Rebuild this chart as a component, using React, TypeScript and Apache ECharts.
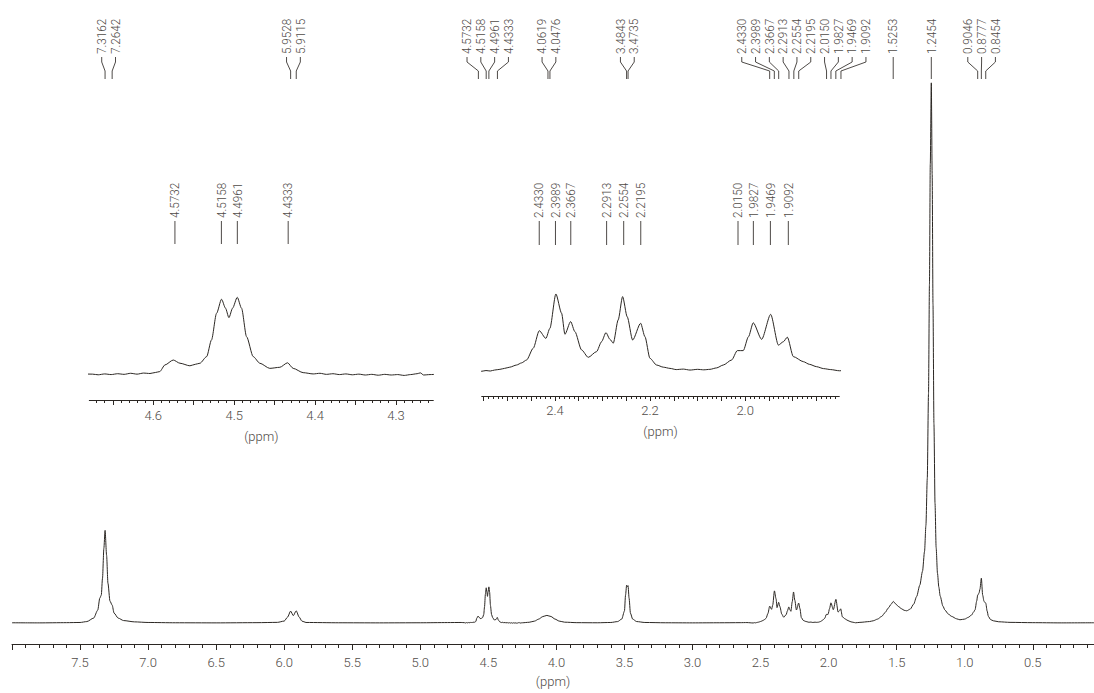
import React, { useEffect, useRef } from "react";
import * as echarts from "echarts";

// ---------- data (ppm, intensity in main-plot units) ----------
const spectrumPpm: number[] = [
  8.0, 7.8, 7.6, 7.5, 7.45, 7.4, 7.37, 7.355, 7.344, 7.335, 7.325, 7.316, 7.305, 7.295, 7.28, 7.264, 7.25, 7.22, 7.18, 7.1, 7.0,
  6.8, 6.5, 6.2, 6.05, 6.0, 5.975, 5.953, 5.933, 5.912, 5.89, 5.87, 5.84, 5.6, 5.3, 5.0, 4.8, 4.7,
  4.675, 4.668, 4.66, 4.652, 4.644, 4.636, 4.628, 4.62, 4.612, 4.604, 4.597, 4.592, 4.5855, 4.5753, 4.567, 4.5547, 4.548, 4.5423,
  4.534, 4.528, 4.5218, 4.5156, 4.5107, 4.5065, 4.502, 4.4962, 4.4909, 4.4847, 4.4765, 4.4683, 4.456, 4.4436, 4.4341, 4.4271,
  4.4148, 4.4024, 4.394, 4.386, 4.378, 4.37, 4.362, 4.354, 4.346, 4.338, 4.33, 4.322, 4.314, 4.306, 4.298, 4.29, 4.282, 4.274,
  4.27, 4.266, 4.258, 4.25, 4.2, 4.16, 4.13, 4.1, 4.07, 4.04, 4.01, 3.98, 3.94, 3.85, 3.7,
  3.6, 3.55, 3.52, 3.5, 3.492, 3.484, 3.479, 3.4735, 3.466, 3.456, 3.44, 3.41, 3.35, 3.2, 3.0, 2.8, 2.65, 2.6,
  2.554, 2.545, 2.536, 2.527, 2.5157, 2.506, 2.495, 2.4807, 2.47, 2.4596, 2.4456, 2.433, 2.419, 2.4106, 2.398, 2.386, 2.379,
  2.367, 2.358, 2.344, 2.33, 2.3124, 2.302, 2.2927, 2.2843, 2.2773, 2.267, 2.2577, 2.248, 2.2366, 2.2198, 2.2107, 2.2002,
  2.1862, 2.172, 2.1581, 2.145, 2.13, 2.116, 2.1, 2.087, 2.074, 2.06, 2.046, 2.0284, 2.0165, 2.004, 1.993, 1.983, 1.9653,
  1.9463, 1.93, 1.9197, 1.9113, 1.8986, 1.8776, 1.865, 1.8496, 1.835, 1.82, 1.802,
  1.77, 1.7, 1.672, 1.64, 1.61, 1.585, 1.562, 1.54, 1.525, 1.505, 1.488, 1.463, 1.445, 1.426, 1.4, 1.375, 1.353, 1.33, 1.31,
  1.295, 1.285, 1.275, 1.266, 1.259, 1.253, 1.2454, 1.239, 1.233, 1.226, 1.218, 1.21, 1.2, 1.19, 1.18, 1.16, 1.145, 1.12,
  1.096, 1.06, 1.035, 1.0, 0.974, 0.95, 0.935, 0.924, 0.912, 0.9046, 0.895, 0.888, 0.8777, 0.868, 0.858, 0.8454, 0.835,
  0.826, 0.81, 0.79, 0.75, 0.667, 0.5, 0.3, 0.05,
];
const spectrumInt: number[] = [
  0.3, 0.2, 0.4, 0.6, 1.5, 5, 13, 25, 28, 45, 75, 93, 68, 40, 22, 18, 10, 5, 2.5, 1.2, 0.6,
  0.3, 0.2, 0.4, 0.7, 2, 6, 12, 7.5, 12.3, 6, 2, 0.6, 0.3, 0.2, 0.3, 0.5, 0.6,
  0.4, 0.1, 0.5, 0.2, 0.6, 0.3, 0.8, 0.4, 0.9, 0.7, 1.2, 1.6, 4.7, 7.0, 5.5, 4.3, 5.0, 5.5,
  8.6, 16.4, 28.8, 35.4, 31.2, 26.8, 31.2, 36.3, 31.2, 17.9, 8.6, 5.5, 3.1, 3.6, 5.7, 3.1,
  1.1, 0.5, 0.8, 0.3, 0.6, 0.2, 0.5, 0.1, 0.4, 0.0, 0.3, -0.1, 0.3, 0.0, 0.2, -0.2, 0.2, 0.6,
  1.0, 0.0, 0.2, 0.3, 0.8, 2, 4, 6.5, 7.7, 6.6, 4, 2, 0.9, 0.4, 0.3,
  0.6, 1.5, 4, 12, 28, 38, 36.5, 37.5, 25, 10, 4, 1.5, 0.6, 0.3, 0.2, 0.3, 0.4, 0.5,
  0.1, 0.4, 0.2, 0.6, 0.9, 1.3, 1.8, 2.7, 3.6, 4.8, 9.7, 17.0, 13.8, 18.0, 32.3, 24.3, 15.5,
  20.8, 16.6, 9.0, 5.9, 8.3, 12.4, 16.2, 13.4, 11.8, 21.5, 31.2, 22.8, 13.1, 20.1, 14.5, 5.5,
  2.7, 1.8, 1.3, 0.8, 1.0, 0.6, 0.9, 0.7, 0.9, 1.5, 2.7, 4.8, 8.7, 8.7, 14.5, 20.3, 13.4,
  23.8, 11.0, 12.4, 14.3, 6.2, 4.1, 3.0, 2.0, 1.2, 0.8, 0.3,
  0.7, 1.5, 2.3, 4, 6.7, 10.5, 15, 19, 21.7, 19, 16.7, 14.3, 12.8, 12.3, 14, 19, 26.7, 38, 52,
  72, 98, 145, 230, 340, 460, 542, 450, 320, 200, 120, 76, 50, 36, 27, 17, 13, 9,
  6.7, 4.3, 3.3, 4, 5.7, 8, 11, 13.3, 22, 28, 30, 34, 45, 28, 21.7, 20, 12,
  6.7, 3.5, 2.3, 1.3, 0.7, 0.4, 0.2, 0.3,
];

// peak-pick labels
const mainPeakLabels: string[] = [
  "7.3162", "7.2642", "5.9528", "5.9115", "4.5732", "4.5158", "4.4961", "4.4333", "4.0619", "4.0476",
  "3.4843", "3.4735", "2.4330", "2.3989", "2.3667", "2.2913", "2.2554", "2.2195", "2.0150", "1.9827",
  "1.9469", "1.9092", "1.5253", "1.2454", "0.9046", "0.8777", "0.8454",
];
const inset1PeakLabels: string[] = ["4.5732", "4.5158", "4.4961", "4.4333"];
const inset2PeakLabels: string[] = [
  "2.4330", "2.3989", "2.3667", "2.2913", "2.2554", "2.2195", "2.0150", "1.9827", "1.9469", "1.9092",
];

// tick labels
const mainTickLabels: number[] = [7.5, 7.0, 6.5, 6.0, 5.5, 5.0, 4.5, 4.0, 3.5, 3.0, 2.5, 2.0, 1.5, 1.0, 0.5];
const inset1TickLabels: number[] = [4.6, 4.5, 4.4, 4.3];
const inset2TickLabels: number[] = [2.4, 2.2, 2.0];

// axis ranges (ppm)
const mainRange: [number, number] = [0.05, 8.0];
const inset1Range: [number, number] = [4.254, 4.679];
const inset2Range: [number, number] = [1.802, 2.554];

// ---------- helpers ----------
const FONT = "Roboto, 'Liberation Sans', sans-serif";
const INK = "#2b2723";
const TEXT = "#4f4b47";

function ticksBetween(lo: number, hi: number, step: number): number[] {
  const out: number[] = [];
  const n0 = Math.ceil(lo / step - 1e-6);
  const n1 = Math.floor(hi / step + 1e-6);
  for (let n = n0; n <= n1; n++) out.push(Math.round(n * step * 1000) / 1000);
  return out;
}

function spread(peaks: number[], gap: number): number[] {
  let cl = peaks.map((p, i) => ({ members: [i], start: p }));
  let merged = true;
  while (merged) {
    merged = false;
    for (let i = 0; i < cl.length - 1; i++) {
      const a = cl[i];
      const b = cl[i + 1];
      const aEnd = a.start + (a.members.length - 1) * gap;
      if (aEnd + gap > b.start) {
        const members = a.members.concat(b.members);
        const mean = members.reduce((s, k) => s + peaks[k], 0) / members.length;
        cl.splice(i, 2, { members, start: mean - ((members.length - 1) * gap) / 2 });
        merged = true;
        break;
      }
    }
  }
  const out: number[] = new Array(peaks.length);
  cl.forEach((c) => c.members.forEach((k, j) => (out[k] = c.start + j * gap)));
  return out;
}

function makeAxes(
  gridIndex: number,
  range: [number, number],
  labels: number[],
  majorTicks: number[],
  minorTicks: number[],
  majorLen: number,
  minorLen: number,
  labelMargin: number,
  nameGap: number
): any[] {
  const base = {
    type: "value",
    gridIndex,
    position: "bottom",
    min: range[0],
    max: range[1],
    inverse: true,
    splitLine: { show: false },
  };
  return [
    {
      ...base,
      axisLine: { show: true, onZero: false, lineStyle: { color: INK, width: 1 } },
      axisTick: { show: true, customValues: majorTicks, length: majorLen, lineStyle: { color: INK, width: 1 } },
      axisLabel: {
        show: true,
        customValues: labels,
        formatter: (v: number) => v.toFixed(1),
        margin: labelMargin,
        color: TEXT,
        fontSize: 13,
        fontWeight: 300,
        fontFamily: FONT,
      },
      name: "(ppm)",
      nameLocation: "middle",
      nameGap,
      nameTextStyle: { color: TEXT, fontSize: 13, fontWeight: 300, fontFamily: FONT },
    },
    {
      ...base,
      axisLine: { show: false, onZero: false },
      axisTick: { show: true, customValues: minorTicks, length: minorLen, lineStyle: { color: INK, width: 1 } },
      axisLabel: { show: false },
    },
  ];
}

export default function App() {
  const ref = useRef<HTMLDivElement>(null);

  useEffect(() => {
    if (!ref.current) return;
    const chart = echarts.init(ref.current, undefined, { renderer: "svg" });
    const data = spectrumPpm.map((p, i) => [p, spectrumInt[i]]);

    const mainMajor = ticksBetween(0.5, 8.0, 0.5);
    const mainMinor = ticksBetween(0.1, 7.9, 0.1).filter((t) => Math.abs(t * 2 - Math.round(t * 2)) > 1e-6);
    const i1Major = ticksBetween(inset1Range[0], inset1Range[1], 0.05);
    const i1Minor = ticksBetween(inset1Range[0], inset1Range[1], 0.01);
    const i2Major = ticksBetween(inset2Range[0], inset2Range[1], 0.05);
    const i2Minor = ticksBetween(inset2Range[0], inset2Range[1], 0.01);

    const xAxis = [
      ...makeAxes(0, mainRange, mainTickLabels, mainMajor, mainMinor, 6, 4, 12, 31),
      ...makeAxes(1, inset1Range, inset1TickLabels, i1Major, i1Minor, 5, 3, 9, 30),
      ...makeAxes(2, inset2Range, inset2TickLabels, i2Major, i2Minor, 5, 3, 8, 29),
    ];

    // inset vertical gains (inset px per main unit)
    const k1 = 2.14;
    const k2 = 2.4;

    const lineSeries = (xi: number, yi: number) => ({
      type: "line",
      xAxisIndex: xi,
      yAxisIndex: yi,
      data,
      symbol: "none",
      clip: true,
      smooth: 0.25,
      smoothMonotone: "x",
      lineStyle: { color: INK, width: 1 },
    });

    const option: any = {
      animation: false,
      backgroundColor: "#ffffff",
      grid: [
        { left: 12, right: 0, top: 40, bottom: 47 },
        { left: 89.3, right: 660.7, top: 250, bottom: 293 },
        { left: 481.7, right: 254.7, top: 250, bottom: 297 },
      ],
      xAxis,
      yAxis: [
        { type: "value", gridIndex: 0, min: -21, max: 585, show: false },
        { type: "value", gridIndex: 1, min: -25 / k1, max: -25 / k1 + 150 / k1, show: false },
        { type: "value", gridIndex: 2, min: -24.5 / k2, max: -24.5 / k2 + 146 / k2, show: false },
      ],
      series: [lineSeries(0, 0), lineSeries(2, 1), lineSeries(4, 2)],
    };
    chart.setOption(option);

    // ---------- peak annotations ----------
    const graphics: any[] = [];
    const lineStyle = { stroke: "#3a3632", lineWidth: 0.9, fill: null };
    const textEl = (t: string, x: number, y: number) => ({
      type: "text",
      silent: true,
      x,
      y,
      rotation: Math.PI / 2,
      scaleX: 0.9,
      style: {
        text: t,
        fill: TEXT,
        fontSize: 13,
        fontWeight: 300,
        fontFamily: FONT,
        align: "left",
        verticalAlign: "middle",
      },
    });

    const mainPx = mainPeakLabels.map((s) => chart.convertToPixel({ xAxisIndex: 0 }, parseFloat(s)) as number);
    const mainLx = spread(mainPx, 13.8);
    mainPeakLabels.forEach((s, i) => {
      const px = mainPx[i];
      const lx = mainLx[i];
      graphics.push({
        type: "polyline",
        silent: true,
        shape: { points: [[lx, 57], [lx, 62], [px, 71], [px, 79]] },
        style: lineStyle,
      });
      graphics.push(textEl(s, lx, 54));
    });

    const insetDefs: [string[], number, number, number][] = [
      [inset1PeakLabels, 2, 221, 244],
      [inset2PeakLabels, 4, 221, 245],
    ];
    insetDefs.forEach(([labels, axisIdx, y0, y1]) => {
      labels.forEach((s) => {
        const px = chart.convertToPixel({ xAxisIndex: axisIdx }, parseFloat(s)) as number;
        graphics.push({ type: "line", silent: true, shape: { x1: px, y1: y0, x2: px, y2: y1 }, style: lineStyle });
        graphics.push(textEl(s, px, y0 - 3));
      });
    });

    chart.setOption({ graphic: graphics });

    return () => chart.dispose();
  }, []);

  return (
    <div
      ref={ref}
      style={{ position: "absolute", left: 0, top: 0, width: 1094, height: 693, background: "#fff" }}
    />
  );
}
